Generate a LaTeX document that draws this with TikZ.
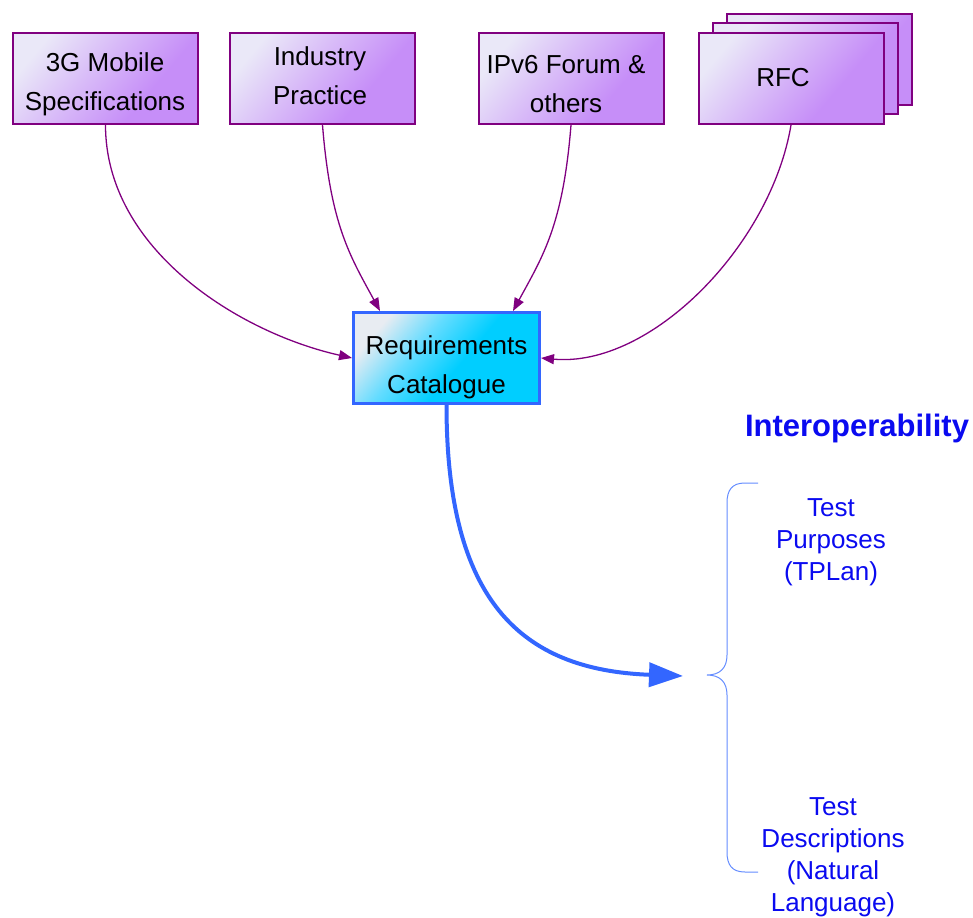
\documentclass[tikz,border=0pt]{standalone}
\usepackage{fontspec}
\setmainfont{Liberation Sans}
\usetikzlibrary{arrows.meta}
\definecolor{pbord}{RGB}{128,0,128}
\definecolor{plight}{RGB}{234,232,248}
\definecolor{pmid}{RGB}{216,186,248}
\definecolor{pdark}{RGB}{198,142,248}
\definecolor{reqbord}{RGB}{51,102,255}
\definecolor{reqlight}{RGB}{232,236,242}
\definecolor{reqmid}{RGB}{100,220,255}
\definecolor{reqdark}{RGB}{0,206,255}
\definecolor{arrblue}{RGB}{51,102,255}
\definecolor{txtblue}{RGB}{10,10,240}
\definecolor{bracecol}{RGB}{100,140,255}
\pgfdeclarehorizontalshading{purpsh}{100bp}{color(0bp)=(plight); color(25bp)=(plight); color(45bp)=(pmid); color(65bp)=(pdark); color(100bp)=(pdark)}
\pgfdeclarehorizontalshading{reqsh}{100bp}{color(0bp)=(reqlight); color(25bp)=(reqlight); color(40bp)=(reqmid); color(55bp)=(reqdark); color(100bp)=(reqdark)}
\tikzset{
  pbox/.style={draw=pbord, line width=2pt, shading=purpsh, shading angle=-40,
    minimum width=185pt, minimum height=91pt, inner sep=0pt},
  reqbox/.style={draw=reqbord, line width=3pt, shading=reqsh, shading angle=-40,
    minimum width=186pt, minimum height=91pt, inner sep=0pt},
  boxtext/.style={align=center, inner sep=0pt, font=\fontsize{26}{39}\selectfont},
  feed/.style={draw=pbord, line width=1.3pt, -{Triangle[length=13pt,width=10pt]}},
  mainarrow/.style={draw=arrblue, line width=4pt, -{Triangle[length=34pt,width=24pt]}},
  bluetext/.style={text=txtblue, align=center, font=\fontsize{26}{32}\selectfont, inner sep=0pt},
}
\begin{document}
\begin{tikzpicture}[x=1pt,y=1pt]
\useasboundingbox (0,0) rectangle (973,-917);
% stacked RFC back sheets
\node[pbox] (rfcback) at (819,-59.5) {};
\node[pbox] (rfcmid) at (805.5,-69) {};
\node[pbox] (rfc) at (791,-78.5) {};
\node[pbox] (g3) at (105.5,-78.5) {};
\node[pbox] (ind) at (322.5,-78.5) {};
\node[pbox] (ipv) at (571,-78.5) {};
\node[reqbox] (req) at (446.5,-358) {};
\node[boxtext] (rfct) at (783,-77.5) {RFC};
\node[boxtext] (g3t) at (105,-84) {3G Mobile\\Specifications};
\node[boxtext] (indt) at (320,-76) {Industry\\Practice};
\node[boxtext] (ipvt) at (566,-84) {IPv6 Forum \&\\others};
\node[boxtext] (reqt) at (446.5,-367) {Requirements\\Catalogue};
% feeding arrows
\draw[feed] (g3.south) .. controls +(0,-125) and +(-112,25) .. (req.west);
\draw[feed] (ind.south) .. controls +(8,-100) and +(-30,55) .. ([xshift=28pt]req.north west);
\draw[feed] (ipv.south) .. controls +(-8,-100) and +(30,55) .. ([xshift=-28pt]req.north east);
\draw[feed] (rfc.south) .. controls +(-20,-120) and +(110,-10) .. (req.east);
% main arrow
\coordinate (tipc) at (683,-676);
\draw[mainarrow] (req.south) .. controls +(0,-195) and +(-163,6) .. (tipc);
% brace
\draw[bracecol, line width=1pt] (758,-483) -- (745,-483) .. controls (732,-483) and (727,-490) .. (727,-503)
  -- (727,-655) .. controls (727,-668) and (720,-675) .. (707,-675)
  .. controls (720,-675) and (727,-682) .. (727,-695)
  -- (727,-852) .. controls (727,-865) and (732,-872) .. (745,-872) -- (758,-872);
% texts
\node[text=txtblue, font=\fontsize{31}{36}\selectfont\bfseries, inner sep=0pt] (interop) at (857,-428) {Interoperability};
\node[bluetext] (tp) at (831,-542) {Test\\Purposes\\(TPLan)};
\node[bluetext] (td) at (833,-857.5) {Test\\Descriptions\\(Natural\\Language)};
\end{tikzpicture}
\end{document}
